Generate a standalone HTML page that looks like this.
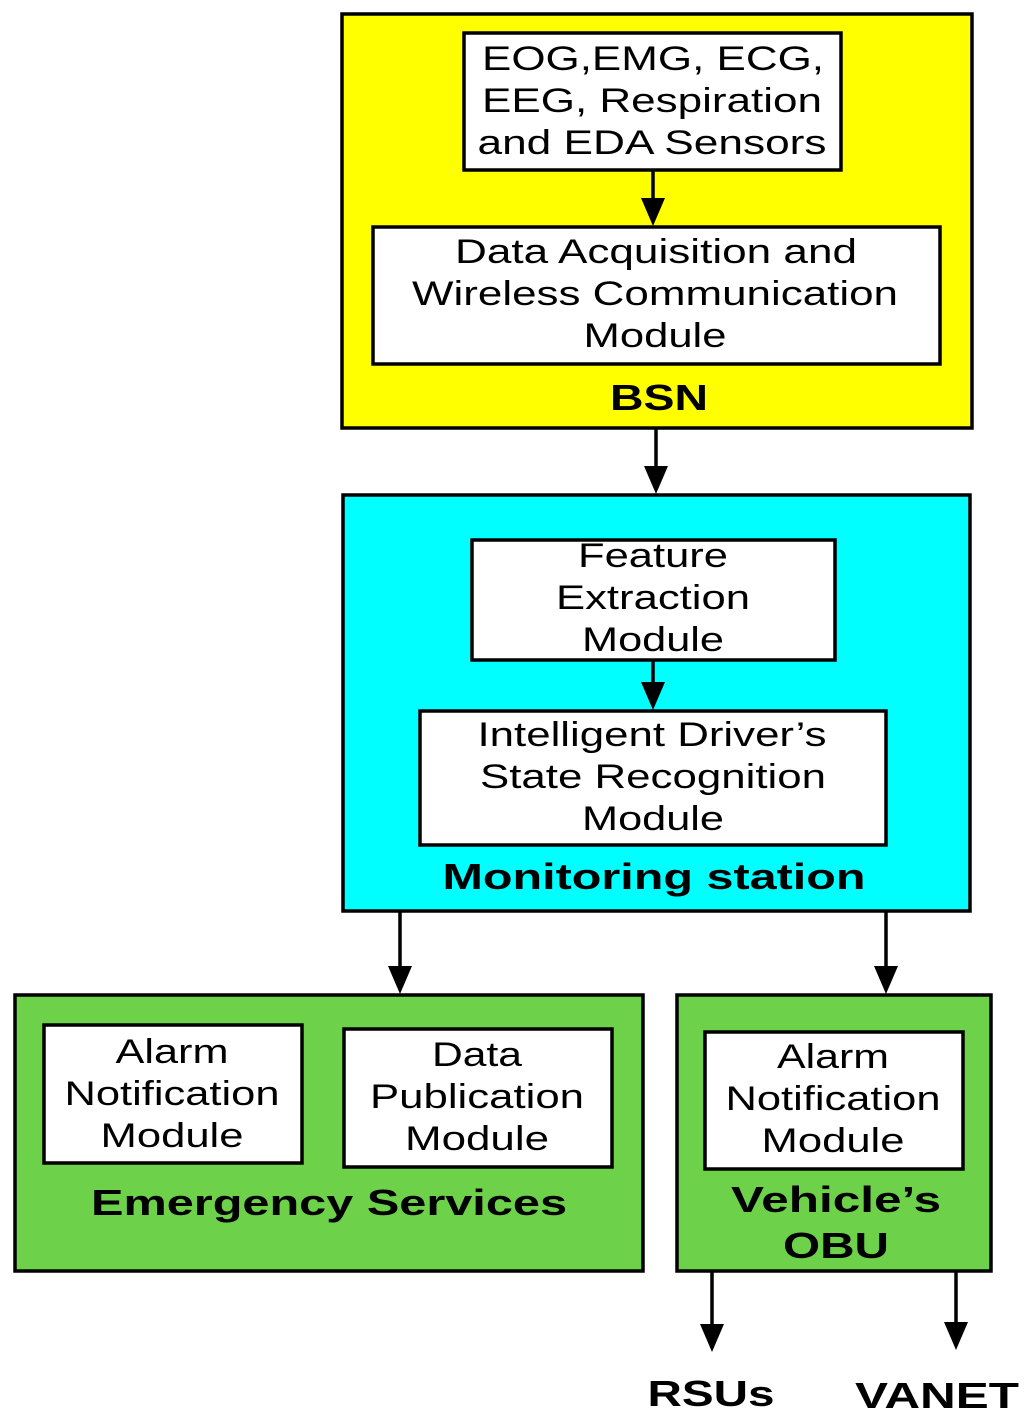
<!DOCTYPE html>
<html><head><meta charset="utf-8"><style>html,body{margin:0;padding:0;background:#fff}svg{display:block}</style></head>
<body>
<svg width="1024" height="1416" viewBox="0 0 1024 1416" xmlns="http://www.w3.org/2000/svg" font-family="Liberation Sans, Arial, sans-serif" text-anchor="middle">
<defs>
<marker id="a" markerWidth="24" markerHeight="28" refX="12" refY="28" orient="auto-start-reverse" markerUnits="userSpaceOnUse" viewBox="0 0 24 28">
</marker>
</defs>
<g stroke="#000" stroke-width="3.5">
<rect x="342" y="14" width="630" height="414" fill="#ffff00"/>
<rect x="464" y="33" width="377" height="137" fill="#fff"/>
<rect x="373" y="227" width="567" height="137" fill="#fff"/>
<rect x="343" y="495" width="627" height="416" fill="#00ffff"/>
<rect x="472" y="540" width="363" height="120" fill="#fff"/>
<rect x="420" y="711" width="466" height="134" fill="#fff"/>
<rect x="15" y="995" width="628" height="276" fill="#6dd14a"/>
<rect x="44" y="1025" width="258" height="138" fill="#fff"/>
<rect x="344" y="1029" width="268" height="138" fill="#fff"/>
<rect x="677" y="995" width="314" height="276" fill="#6dd14a"/>
<rect x="705" y="1032" width="258" height="137" fill="#fff"/>
<line x1="653" y1="170" x2="653" y2="200"/>
<line x1="656" y1="428" x2="656" y2="468"/>
<line x1="653" y1="660" x2="653" y2="684"/>
<line x1="400" y1="911" x2="400" y2="968"/>
<line x1="886" y1="911" x2="886" y2="968"/>
<line x1="712" y1="1271" x2="712" y2="1326"/>
<line x1="956" y1="1271" x2="956" y2="1324"/>
</g>
<g fill="#000">
<polygon points="641,198 665,198 653,226"/>
<polygon points="644,466 668,466 656,494"/>
<polygon points="641,682 665,682 653,710"/>
<polygon points="388,966 412,966 400,994"/>
<polygon points="874,966 898,966 886,994"/>
<polygon points="700,1324 724,1324 712,1352"/>
<polygon points="944,1322 968,1322 956,1350"/>
</g>
<g font-size="34" fill="#000" lengthAdjust="spacingAndGlyphs">
<text x="653" y="70" textLength="342" lengthAdjust="spacingAndGlyphs">EOG,EMG, ECG,</text>
<text x="652" y="112" textLength="340" lengthAdjust="spacingAndGlyphs">EEG, Respiration</text>
<text x="652" y="154" textLength="349" lengthAdjust="spacingAndGlyphs">and EDA Sensors</text>
<text x="656" y="263" textLength="402" lengthAdjust="spacingAndGlyphs">Data Acquisition and</text>
<text x="655" y="305" textLength="486" lengthAdjust="spacingAndGlyphs">Wireless Communication</text>
<text x="655" y="347" textLength="143" lengthAdjust="spacingAndGlyphs">Module</text>
<text x="653" y="567" textLength="150" lengthAdjust="spacingAndGlyphs">Feature</text>
<text x="653" y="609" textLength="194" lengthAdjust="spacingAndGlyphs">Extraction</text>
<text x="653" y="651" textLength="142" lengthAdjust="spacingAndGlyphs">Module</text>
<text x="652" y="746" textLength="349" lengthAdjust="spacingAndGlyphs">Intelligent Driver’s</text>
<text x="653" y="788" textLength="346" lengthAdjust="spacingAndGlyphs">State Recognition</text>
<text x="653" y="830" textLength="142" lengthAdjust="spacingAndGlyphs">Module</text>
<text x="172" y="1063" textLength="113" lengthAdjust="spacingAndGlyphs">Alarm</text>
<text x="172" y="1105" textLength="215" lengthAdjust="spacingAndGlyphs">Notification</text>
<text x="172" y="1147" textLength="143" lengthAdjust="spacingAndGlyphs">Module</text>
<text x="477" y="1066" textLength="90" lengthAdjust="spacingAndGlyphs">Data</text>
<text x="477" y="1108" textLength="214" lengthAdjust="spacingAndGlyphs">Publication</text>
<text x="477" y="1150" textLength="144" lengthAdjust="spacingAndGlyphs">Module</text>
<text x="833" y="1068" textLength="112" lengthAdjust="spacingAndGlyphs">Alarm</text>
<text x="833" y="1110" textLength="215" lengthAdjust="spacingAndGlyphs">Notification</text>
<text x="833" y="1152" textLength="143" lengthAdjust="spacingAndGlyphs">Module</text>
</g>
<g font-size="36" font-weight="bold" fill="#000">
<text x="659" y="410" textLength="98" lengthAdjust="spacingAndGlyphs">BSN</text>
<text x="654" y="889" textLength="423" lengthAdjust="spacingAndGlyphs">Monitoring station</text>
<text x="329" y="1215" textLength="476" lengthAdjust="spacingAndGlyphs">Emergency Services</text>
<text x="836" y="1212" textLength="210" lengthAdjust="spacingAndGlyphs">Vehicle’s</text>
<text x="836" y="1258" textLength="106" lengthAdjust="spacingAndGlyphs">OBU</text>
<text x="711" y="1406" textLength="127" lengthAdjust="spacingAndGlyphs">RSUs</text>
<text x="937" y="1408" textLength="164" lengthAdjust="spacingAndGlyphs">VANET</text>
</g>
</svg>
</body></html>
